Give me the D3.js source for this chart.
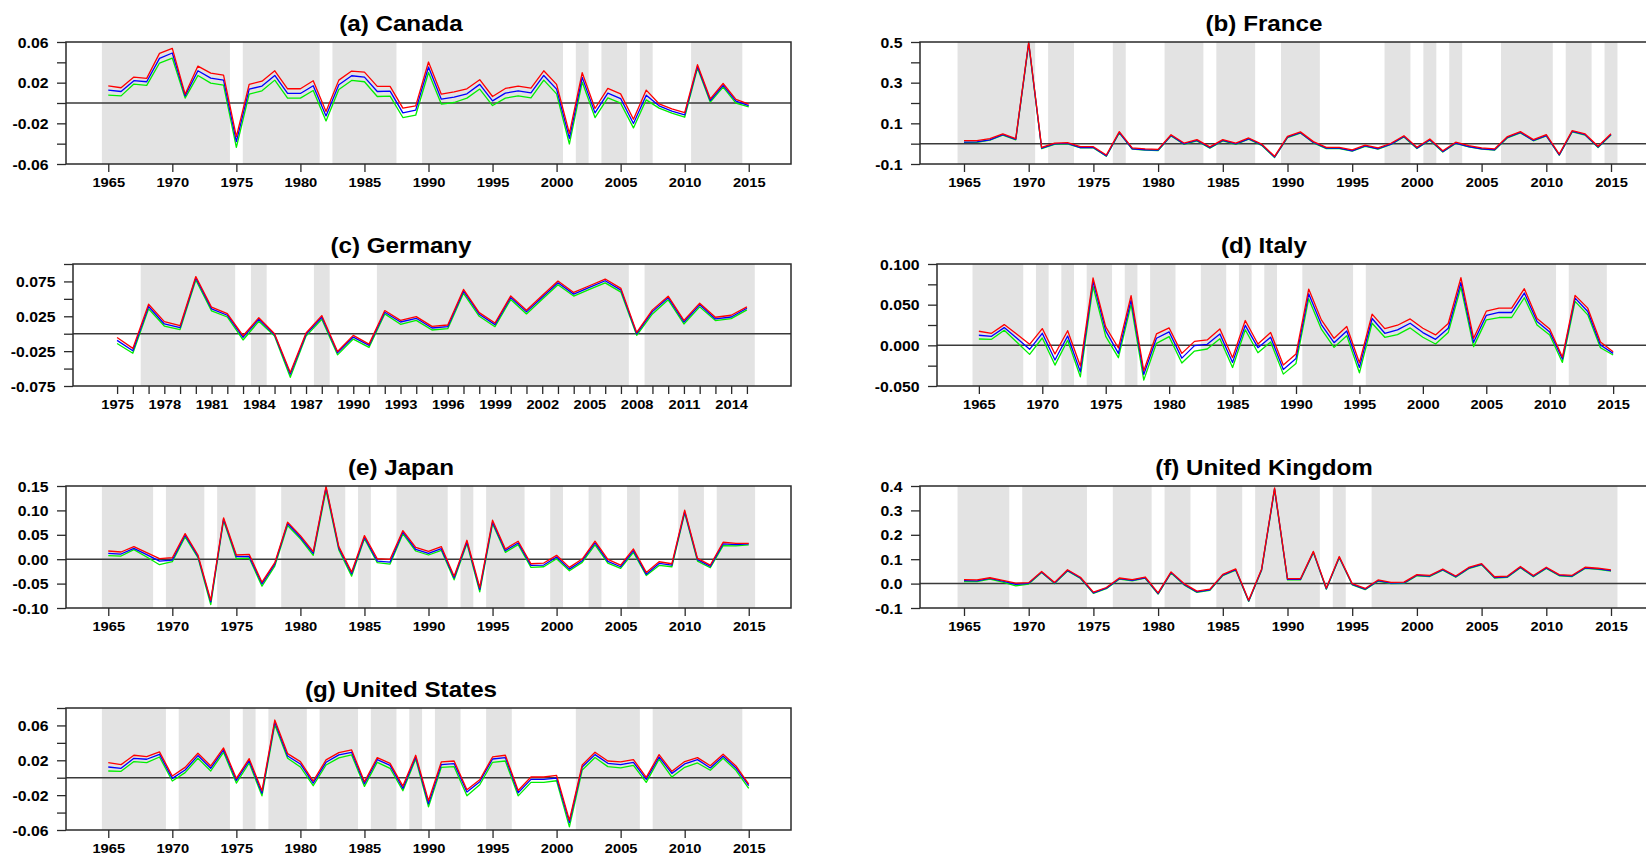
<!DOCTYPE html>
<html>
<head>
<meta charset="utf-8">
<script src="https://cdn.jsdelivr.net/npm/d3@7"></script>
<style>
  body { margin: 0; background: #fff; }
  svg text { font-family: "Liberation Sans", Arial, sans-serif; font-weight: bold; fill: #000; }
</style>
</head>
<body>
<svg id="chart" width="1646" height="856"></svg>
<script>
// years on the x axis
const years65 = d3.range(1965, 2016);
const years75 = d3.range(1975, 2016);

// (a) Canada
const canadaRed = [0.0169,0.015,0.0255,0.0242,0.0488,0.0538,0.0087,0.0363,0.0294,0.0275,-0.033,0.0183,0.0215,0.0317,0.014,0.014,0.0219,-0.0084,0.0225,0.0314,0.0304,0.0163,0.0163,-0.0051,-0.0028,0.0403,0.0087,0.011,0.014,0.0229,0.0064,0.0143,0.0166,0.0146,0.0317,0.0183,-0.0298,0.0298,-0.0054,0.0143,0.009,-0.016,0.0127,-0.0008,-0.0058,-0.0094,0.0377,0.0041,0.0192,0.0035,-0.0012];
const canadaBlue = [0.0127,0.0113,0.022,0.0209,0.0439,0.0492,0.007,0.0317,0.0245,0.0225,-0.038,0.0137,0.0166,0.0271,0.0094,0.0094,0.017,-0.0127,0.0179,0.0268,0.0255,0.0113,0.0117,-0.0097,-0.007,0.0354,0.0038,0.0058,0.009,0.0183,0.0021,0.0097,0.012,0.01,0.0271,0.0137,-0.0347,0.0252,-0.0097,0.0097,0.0044,-0.0202,0.0077,-0.0028,-0.008,-0.0117,0.036,0.0025,0.0173,0.0018,-0.0025];
const canadaGreen = [0.0077,0.007,0.0186,0.0173,0.0393,0.0442,0.0048,0.027,0.0196,0.0176,-0.0436,0.0087,0.012,0.0225,0.0048,0.0048,0.0123,-0.0176,0.0133,0.0222,0.0209,0.0064,0.0067,-0.0143,-0.012,0.03,-0.0011,0.0005,0.0048,0.0137,-0.0025,0.0048,0.007,0.0051,0.0225,0.009,-0.0403,0.0206,-0.0143,0.0051,-0.0002,-0.0245,0.0031,-0.005,-0.01,-0.014,0.0344,0.0008,0.0156,-0.0002,-0.0038];
const canadaBands = [[1964.5,1974.5],[1975.5,1981.5],[1982.5,1987.5],[1989.5,2000.5],[2001.5,2002.5],[2003.5,2005.5],[2006.5,2007.5],[2010.5,2014.5]];
const canadaYTicks = [-0.06,-0.04,-0.02,0,0.02,0.04,0.06];
const canadaYLabels = [-0.06,-0.02,0.02,0.06];

// (b) France
const franceRed = [0.015,0.015,0.025,0.048,0.025,0.50,-0.018,0.003,0.005,-0.015,-0.015,-0.056,0.059,-0.021,-0.026,-0.028,0.044,0.003,0.020,-0.016,0.020,0.003,0.028,-0.002,-0.062,0.036,0.058,0.010,-0.018,-0.018,-0.031,-0.007,-0.021,0.002,0.039,-0.018,0.023,-0.035,0.007,-0.010,-0.021,-0.026,0.035,0.059,0.020,0.044,-0.051,0.064,0.048,-0.013,0.049];
const franceBlue = [0.008,0.009,0.019,0.044,0.021,0.495,-0.022,-0.001,0.001,-0.019,-0.019,-0.060,0.055,-0.025,-0.030,-0.032,0.040,-0.001,0.016,-0.020,0.016,-0.001,0.024,-0.006,-0.066,0.032,0.054,0.006,-0.022,-0.022,-0.035,-0.011,-0.025,-0.002,0.035,-0.022,0.019,-0.039,0.003,-0.014,-0.025,-0.030,0.031,0.055,0.016,0.040,-0.055,0.060,0.044,-0.017,0.045];
const franceGreen = [0.006,0.007,0.017,0.042,0.019,0.492,-0.024,-0.003,-0.001,-0.021,-0.021,-0.062,0.053,-0.027,-0.032,-0.034,0.038,-0.003,0.014,-0.022,0.014,-0.003,0.022,-0.008,-0.068,0.030,0.052,0.004,-0.024,-0.024,-0.037,-0.013,-0.027,-0.004,0.033,-0.024,0.017,-0.041,0.001,-0.016,-0.027,-0.032,0.029,0.053,0.014,0.038,-0.057,0.058,0.042,-0.019,0.043];
const franceBands = [[1964.5,1970.5],[1971.5,1973.5],[1976.5,1977.5],[1980.5,1983.5],[1984.5,1987.5],[1989.5,1992.5],[1997.5,1999.5],[2000.5,2001.5],[2002.5,2003.5],[2006.5,2010.5],[2011.5,2013.5],[2014.5,2015.5]];
const franceYTicks = [-0.1,0,0.1,0.2,0.3,0.4,0.5];
const franceYLabels = [-0.1,0.1,0.3,0.5];

// (c) Germany
const germanyRed = [-0.0053,-0.021,0.0423,0.0173,0.0115,0.082,0.038,0.0289,-0.0029,0.023,0,-0.0558,0.001,0.026,-0.0255,-0.0024,-0.0149,0.0332,0.0192,0.0245,0.0106,0.0125,0.0635,0.0303,0.0154,0.0543,0.0337,0.0548,0.0755,0.0592,0.0688,0.0784,0.065,0.0019,0.0342,0.0539,0.0192,0.0438,0.0236,0.0265,0.0385];
const germanyBlue = [-0.0096,-0.0245,0.039,0.014,0.0087,0.08,0.0356,0.0265,-0.0053,0.0207,-0.0014,-0.058,-0.001,0.0236,-0.0274,-0.0048,-0.0168,0.0308,0.0168,0.0221,0.0082,0.0101,0.061,0.028,0.013,0.052,0.0313,0.0524,0.073,0.0568,0.0664,0.076,0.0625,0,0.0317,0.0515,0.0168,0.0414,0.0212,0.024,0.0366];
const germanyGreen = [-0.014,-0.028,0.0356,0.011,0.0058,0.077,0.0327,0.024,-0.009,0.0178,-0.0034,-0.0625,-0.0034,0.0207,-0.0303,-0.0077,-0.0197,0.0284,0.0135,0.0192,0.0053,0.0072,0.058,0.025,0.0101,0.049,0.0284,0.0495,0.0702,0.054,0.0635,0.073,0.0596,-0.0024,0.0284,0.0486,0.014,0.0385,0.0188,0.0216,0.0342];
const germanyBands = [[1976.5,1982.5],[1983.5,1984.5],[1987.5,1988.5],[1991.5,2007.5],[2008.5,2015.5]];
const germanyYTicks = [-0.075,-0.05,-0.025,0,0.025,0.05,0.075,0.1];
const germanyYLabels = [-0.075,-0.025,0.025,0.075];

// (d) Italy
const italyRed = [0.0173,0.0148,0.0255,0.0136,0.0012,0.0206,-0.0107,0.018,-0.0255,0.0828,0.0227,-0.0033,0.061,-0.0313,0.014,0.0214,-0.0099,0.0049,0.0066,0.0202,-0.0152,0.0305,0.0016,0.0157,-0.0243,-0.0107,0.0692,0.0313,0.0087,0.0231,-0.0214,0.0383,0.0206,0.0247,0.0325,0.021,0.0128,0.0268,0.0832,0.0087,0.042,0.0457,0.0457,0.0696,0.033,0.0202,-0.0144,0.0614,0.0457,0.0041,-0.0078];
const italyBlue = [0.0124,0.0111,0.0218,0.0086,-0.0049,0.0148,-0.018,0.0115,-0.0325,0.0787,0.0177,-0.0099,0.056,-0.0358,0.0087,0.0165,-0.0157,-0.0004,0.0012,0.014,-0.021,0.0245,-0.0029,0.0099,-0.0297,-0.0161,0.0634,0.0255,0.0033,0.0177,-0.0272,0.033,0.0148,0.019,0.0272,0.0157,0.0074,0.021,0.0775,0.0037,0.0367,0.0404,0.0404,0.0643,0.0293,0.0165,-0.0169,0.0581,0.0416,0.0004,-0.0099];
const italyGreen = [0.0078,0.0074,0.0185,0.0037,-0.0111,0.009,-0.0243,0.0062,-0.0387,0.0725,0.0111,-0.0152,0.05,-0.0428,0.0025,0.0107,-0.0218,-0.007,-0.0045,0.0082,-0.0272,0.0192,-0.0091,0.0041,-0.0354,-0.0222,0.0573,0.0198,-0.0025,0.0119,-0.0338,0.0272,0.0099,0.0132,0.0214,0.0099,0.0016,0.0157,0.0717,-0.0016,0.0313,0.0342,0.0342,0.0585,0.0251,0.0128,-0.021,0.054,0.0375,-0.0029,-0.0119];
const italyBands = [[1964.5,1968.5],[1969.5,1970.5],[1971.5,1972.5],[1973.5,1975.5],[1976.5,1977.5],[1978.5,1980.5],[1982.5,1984.5],[1985.5,1986.5],[1987.5,1988.5],[1990.5,1994.5],[1995.5,2010.5],[2011.5,2014.5]];
const italyYTicks = [-0.05,-0.025,0,0.025,0.05,0.075,0.1];
const italyYLabels = [-0.05,0,0.05,0.1];

// (e) Japan
const japanRed = [0.0168,0.0148,0.0258,0.0134,0.001,0.0031,0.0525,0.0086,-0.0842,0.0848,0.0086,0.01,-0.0471,-0.0072,0.0759,0.0484,0.0155,0.1494,0.0258,-0.0264,0.0484,0.001,-0.0003,0.0587,0.0244,0.0161,0.0258,-0.0347,0.0388,-0.058,0.08,0.021,0.0368,-0.0093,-0.0079,0.0079,-0.0168,0.0003,0.0368,-0.0003,-0.012,0.021,-0.0271,-0.0052,-0.0093,0.1006,0.0017,-0.012,0.0347,0.0326,0.0326];
const japanBlue = [0.012,0.0106,0.0223,0.0093,-0.0038,-0.0017,0.0491,0.0058,-0.0876,0.0821,0.0052,0.0058,-0.0505,-0.01,0.0732,0.045,0.012,0.1467,0.0223,-0.0299,0.045,-0.0038,-0.0058,0.0553,0.0203,0.012,0.0216,-0.0381,0.0354,-0.0622,0.0759,0.0175,0.0333,-0.0127,-0.012,0.0045,-0.0203,-0.0031,0.0333,-0.0045,-0.0155,0.0175,-0.0306,-0.0086,-0.012,0.0972,-0.001,-0.0148,0.0313,0.0299,0.0313];
const japanGreen = [0.0072,0.0065,0.0196,0.0045,-0.0113,-0.0052,0.0457,0.0031,-0.0931,0.0793,0.001,0.0024,-0.0553,-0.0141,0.069,0.0416,0.0079,0.1412,0.0189,-0.0347,0.0422,-0.0072,-0.01,0.0519,0.0168,0.0086,0.0182,-0.0423,0.0319,-0.067,0.0725,0.0141,0.0299,-0.0168,-0.0155,0.001,-0.0237,-0.0065,0.0292,-0.0079,-0.0189,0.0141,-0.0333,-0.0127,-0.0155,0.0945,-0.0038,-0.0175,0.0278,0.0271,0.0292];
const japanBands = [[1964.5,1968.5],[1969.5,1972.5],[1973.5,1976.5],[1978.5,1983.5],[1984.5,1985.5],[1987.5,1991.5],[1992.5,1993.5],[1994.5,1997.5],[1999.5,2000.5],[2002.5,2003.5],[2005.5,2006.5],[2009.5,2011.5],[2012.5,2015.5]];
const japanYTicks = [-0.1,-0.05,0,0.05,0.1,0.15];
const japanYLabels = [-0.1,-0.05,0,0.05,0.1,0.15];

// (f) United Kingdom
const ukRed = [0.016,0.015,0.024,0.013,0.002,0.004,0.050,0.005,0.057,0.026,-0.035,-0.016,0.023,0.016,0.027,-0.038,0.048,0.000,-0.031,-0.023,0.038,0.060,-0.068,0.060,0.392,0.020,0.020,0.132,-0.018,0.111,0.000,-0.020,0.015,0.005,0.006,0.037,0.034,0.060,0.031,0.066,0.082,0.028,0.031,0.070,0.033,0.067,0.037,0.034,0.067,0.063,0.056];
const ukBlue = [0.012,0.011,0.021,0.010,-0.003,0.001,0.047,0.002,0.054,0.023,-0.038,-0.019,0.020,0.013,0.024,-0.041,0.045,-0.003,-0.034,-0.026,0.035,0.057,-0.071,0.057,0.388,0.017,0.017,0.129,-0.021,0.108,-0.003,-0.023,0.012,0.002,0.003,0.034,0.031,0.057,0.028,0.063,0.079,0.025,0.028,0.067,0.030,0.064,0.034,0.031,0.064,0.060,0.053];
const ukGreen = [0.008,0.008,0.018,0.006,-0.009,-0.002,0.045,0.000,0.052,0.021,-0.040,-0.021,0.018,0.011,0.022,-0.043,0.043,-0.005,-0.036,-0.028,0.033,0.055,-0.073,0.055,0.385,0.015,0.015,0.127,-0.023,0.106,-0.005,-0.025,0.010,0.000,0.001,0.032,0.029,0.055,0.026,0.061,0.077,0.023,0.026,0.065,0.028,0.062,0.032,0.029,0.062,0.058,0.051];
const ukBands = [[1964.5,1968.5],[1969.5,1974.5],[1976.5,1979.5],[1980.5,1982.5],[1984.5,1986.5],[1987.5,1992.5],[1993.5,1994.5],[1996.5,2015.5]];
const ukYTicks = [-0.1,0,0.1,0.2,0.3,0.4];
const ukYLabels = [-0.1,0,0.1,0.2,0.3,0.4];

// (g) United States
const usRed = [0.0173,0.015,0.0258,0.0242,0.0296,0.0019,0.0119,0.0281,0.0135,0.0342,-0.0008,0.0219,-0.015,0.0662,0.0277,0.0185,-0.0038,0.0204,0.0288,0.0319,-0.0046,0.0231,0.0165,-0.0096,0.0258,-0.0265,0.0181,0.0192,-0.0138,-0.0023,0.0238,0.0258,-0.0146,0.0008,0.0008,0.0027,-0.0488,0.0146,0.0292,0.0192,0.0181,0.0208,0.0004,0.0265,0.0073,0.0185,0.0231,0.0138,0.0269,0.0135,-0.0073];
const usBlue = [0.0123,0.0108,0.0223,0.0212,0.0269,-0.0008,0.0088,0.0254,0.0108,0.0319,-0.0031,0.0196,-0.0177,0.0638,0.025,0.0158,-0.0062,0.0177,0.0262,0.0292,-0.0069,0.0208,0.0142,-0.0123,0.0238,-0.03,0.015,0.0162,-0.0165,-0.0046,0.0215,0.0231,-0.0173,-0.0019,-0.0019,-0.0004,-0.0515,0.0123,0.0265,0.0165,0.015,0.0177,-0.0019,0.0238,0.005,0.0158,0.0208,0.0112,0.0246,0.0112,-0.0092];
const usGreen = [0.0077,0.0073,0.0185,0.0173,0.0238,-0.0038,0.0058,0.0223,0.0077,0.0292,-0.0062,0.0169,-0.0208,0.0608,0.0223,0.0123,-0.0092,0.0146,0.0227,0.0262,-0.01,0.0177,0.0108,-0.015,0.0215,-0.0335,0.0119,0.0127,-0.0208,-0.0081,0.0177,0.0192,-0.0208,-0.0054,-0.0054,-0.0035,-0.0565,0.0088,0.0231,0.0127,0.0112,0.0142,-0.0054,0.0212,0.0008,0.0119,0.0169,0.0085,0.0223,0.0085,-0.0123];
const usBands = [[1964.5,1969.5],[1970.5,1974.5],[1975.5,1976.5],[1977.5,1980.5],[1981.5,1984.5],[1985.5,1987.5],[1988.5,1989.5],[1990.5,1992.5],[1994.5,1996.5],[2001.5,2006.5],[2007.5,2014.5]];
const usYTicks = [-0.06,-0.04,-0.02,0,0.02,0.04,0.06,0.08];
const usYLabels = [-0.06,-0.02,0.02,0.06];

// x tick labels
const xLabels65 = d3.range(1965, 2016, 5);
const xLabels75 = d3.range(1975, 2015, 3);

const panels = [
  {title: "(a) Canada", years: years65, red: canadaRed, blue: canadaBlue, green: canadaGreen, bands: canadaBands,
   yDomain: [-0.06, 0.06], yTicks: canadaYTicks, yLabels: canadaYLabels, fmt: ".2f",
   xDomain: [1961.7, 2018.3], xTicks: xLabels65, xLabels: xLabels65,
   left: 66, right: 791, top: 42, titleX: 401},
  {title: "(b) France", years: years65, red: franceRed, blue: franceBlue, green: franceGreen, bands: franceBands,
   yDomain: [-0.1, 0.5], yTicks: franceYTicks, yLabels: franceYLabels, fmt: ".1f",
   xDomain: [1961.6, 2018.4], xTicks: xLabels65, xLabels: xLabels65,
   left: 920, right: 1655, top: 42, titleX: 1264},
  {title: "(c) Germany", years: years75, red: germanyRed, blue: germanyBlue, green: germanyGreen, bands: germanyBands,
   yDomain: [-0.075, 0.1], yTicks: germanyYTicks, yLabels: germanyYLabels, fmt: ".3f",
   xDomain: [1972.2, 2017.8], xTicks: years75, xLabels: xLabels75,
   left: 73, right: 791, top: 264, titleX: 401},
  {title: "(d) Italy", years: years65, red: italyRed, blue: italyBlue, green: italyGreen, bands: italyBands,
   yDomain: [-0.05, 0.1], yTicks: italyYTicks, yLabels: italyYLabels, fmt: ".3f",
   xDomain: [1961.7, 2018.3], xTicks: xLabels65, xLabels: xLabels65,
   left: 937, right: 1655, top: 264, titleX: 1264},
  {title: "(e) Japan", years: years65, red: japanRed, blue: japanBlue, green: japanGreen, bands: japanBands,
   yDomain: [-0.1, 0.15], yTicks: japanYTicks, yLabels: japanYLabels, fmt: ".2f",
   xDomain: [1961.7, 2018.3], xTicks: xLabels65, xLabels: xLabels65,
   left: 66, right: 791, top: 486, titleX: 401},
  {title: "(f) United Kingdom", years: years65, red: ukRed, blue: ukBlue, green: ukGreen, bands: ukBands,
   yDomain: [-0.1, 0.4], yTicks: ukYTicks, yLabels: ukYLabels, fmt: ".1f",
   xDomain: [1961.6, 2018.4], xTicks: xLabels65, xLabels: xLabels65,
   left: 920, right: 1655, top: 486, titleX: 1264},
  {title: "(g) United States", years: years65, red: usRed, blue: usBlue, green: usGreen, bands: usBands,
   yDomain: [-0.06, 0.08], yTicks: usYTicks, yLabels: usYLabels, fmt: ".2f",
   xDomain: [1961.7, 2018.3], xTicks: xLabels65, xLabels: xLabels65,
   left: 66, right: 791, top: 708, titleX: 401}
];

const plotHeight = 122;
const stretch = 1.13;
const svg = d3.select("#chart");

const isIn = (list, v) => list.some(t => Math.abs(t - v) < 1e-9);

panels.forEach(p => {
  const bottom = p.top + plotHeight;
  const x = d3.scaleLinear().domain(p.xDomain).range([p.left, p.right]);
  const y = d3.scaleLinear().domain(p.yDomain).range([bottom, p.top]);
  const g = svg.append("g");

  // shaded periods
  g.selectAll(".band")
    .data(p.bands)
    .join("rect")
    .attr("class", "band")
    .attr("x", d => x(d[0]))
    .attr("width", d => x(d[1]) - x(d[0]))
    .attr("y", p.top)
    .attr("height", plotHeight)
    .attr("fill", "#e3e3e3");

  // zero line
  g.append("line")
    .attr("x1", p.left).attr("x2", p.right)
    .attr("y1", y(0)).attr("y2", y(0))
    .attr("stroke", "#3a3a3a")
    .attr("stroke-width", 1.5);

  const line = d3.line()
    .x((d, i) => x(p.years[i]))
    .y(d => y(d));

  [[p.green, "#00ee00"], [p.blue, "#0000ff"], [p.red, "#ff0000"]].forEach(([vals, col]) => {
    g.append("path")
      .datum(vals)
      .attr("d", line)
      .attr("fill", "none")
      .attr("stroke", col)
      .attr("stroke-width", 1.3)
      .attr("stroke-linejoin", "round");
  });

  // frame
  g.append("rect")
    .attr("x", p.left).attr("y", p.top)
    .attr("width", p.right - p.left).attr("height", plotHeight)
    .attr("fill", "none")
    .attr("stroke", "#2a2a2a")
    .attr("stroke-width", 1.5);

  const fmt = d3.format(p.fmt);

  const yAxis = d3.axisLeft(y)
    .tickValues(p.yTicks)
    .tickSize(9)
    .tickFormat(d => isIn(p.yLabels, d) ? fmt(d).replace("\u2212", "-") : "");
  const gy = g.append("g")
    .attr("transform", "translate(" + p.left + ",0)")
    .call(yAxis);
  gy.select(".domain").remove();
  gy.selectAll(".tick line").attr("stroke", "#2a2a2a").attr("stroke-width", 1.3);
  gy.selectAll(".tick text")
    .attr("x", -17.5 / stretch)
    .attr("dy", "0.36em")
    .attr("transform", "scale(" + stretch + ",1)")
    .style("font-size", "14px");

  const xAxis = d3.axisBottom(x)
    .tickValues(p.xTicks)
    .tickSize(8)
    .tickFormat(d => isIn(p.xLabels, d) ? String(d) : "");
  const gx = g.append("g")
    .attr("transform", "translate(0," + bottom + ")")
    .call(xAxis);
  gx.select(".domain").remove();
  gx.selectAll(".tick line").attr("stroke", "#2a2a2a").attr("stroke-width", 1.3);
  gx.selectAll(".tick text")
    .attr("y", 14)
    .attr("transform", "scale(" + stretch + ",1)")
    .style("font-size", "13px");

  // title
  svg.append("text")
    .attr("transform", "translate(" + p.titleX + "," + (p.top - 11) + ") scale(1.1,1)")
    .attr("text-anchor", "middle")
    .style("font-size", "22px")
    .text(p.title);
});
</script>
</body>
</html>
